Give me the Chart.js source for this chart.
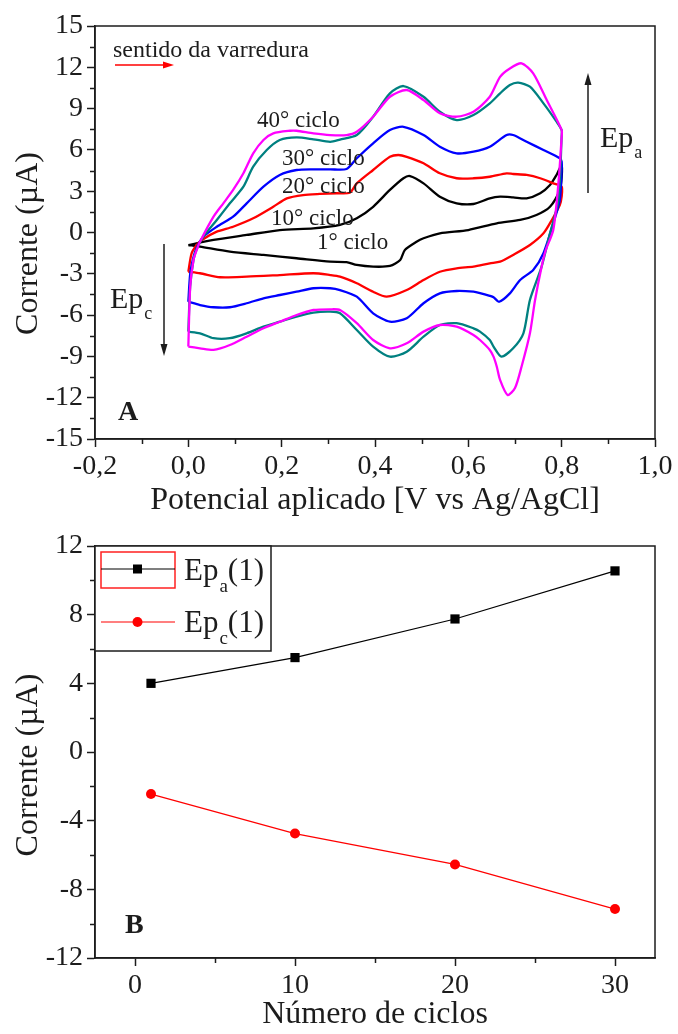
<!DOCTYPE html>
<html>
<head>
<meta charset="utf-8">
<title>Voltametria cíclica</title>
<script src="https://cdn.jsdelivr.net/npm/chart.js@4.4.1/dist/chart.umd.min.js"></script>
<style>
  html, body { margin: 0; padding: 0; background: #fff; }
  #wrap { position: relative; width: 678px; height: 1034px; }
  #wrap canvas { position: absolute; left: 0; }
  #cv-chart { top: 0; }
  #peak-chart { top: 520px; }
</style>
</head>
<body>
<div id="wrap">
  <canvas id="cv-chart" width="678" height="520"></canvas>
  <canvas id="peak-chart" width="678" height="514"></canvas>
</div>
<script>
// ---- Panel A: voltammograms (potential in V, current in µA) ----
// each trace runs 0.0 -> 0.8 V (anodic) and back to 0.0 V (cathodic)
const c40Potential = [0.000, 0.004, 0.011, 0.018, 0.025, 0.054, 0.075, 0.096, 0.118, 0.139, 0.161, 0.182, 0.218, 0.232, 0.268, 0.304, 0.339, 0.361, 0.396, 0.432, 0.468, 0.504, 0.539, 0.575, 0.611, 0.646, 0.668, 0.689, 0.714, 0.739, 0.768, 0.800,
  0.800, 0.793, 0.782, 0.766, 0.757, 0.743, 0.732, 0.714, 0.700, 0.684, 0.668, 0.661, 0.654, 0.646, 0.625, 0.611, 0.575, 0.539, 0.504, 0.468, 0.432, 0.396, 0.361, 0.325, 0.304, 0.268, 0.232, 0.196, 0.161, 0.125, 0.089, 0.054, 0.025, 0.000];
const c40Current = [-8.29, -3.94, -2.00, -1.27, -0.67, 1.15, 2.12, 3.09, 4.30, 5.75, 6.72, 7.20, 7.39, 7.39, 7.20, 7.08, 7.08, 7.32, 8.41, 9.86, 10.35, 9.62, 8.66, 8.41, 8.77, 9.86, 11.31, 11.92, 12.29, 11.56, 9.62, 7.44,
  6.96, 3.57, 0.18, -1.27, -2.48, -4.90, -7.32, -9.75, -11.30, -11.80, -10.71, -9.75, -9.02, -8.53, -7.81, -7.44, -6.84, -6.72, -7.20, -8.05, -8.41, -7.81, -6.59, -5.63, -5.58, -5.63, -5.99, -6.48, -6.96, -7.57, -8.17, -8.53, -8.41, -8.29];

const c30Potential = [0.000, 0.004, 0.011, 0.018, 0.032, 0.061, 0.089, 0.118, 0.139, 0.168, 0.196, 0.232, 0.268, 0.304, 0.325, 0.361, 0.396, 0.432, 0.461, 0.504, 0.539, 0.575, 0.611, 0.646, 0.668, 0.689, 0.707, 0.732, 0.761, 0.789, 0.800,
  0.800, 0.793, 0.775, 0.757, 0.732, 0.718, 0.696, 0.671, 0.654, 0.646, 0.625, 0.611, 0.575, 0.539, 0.504, 0.468, 0.432, 0.396, 0.361, 0.325, 0.304, 0.268, 0.232, 0.196, 0.161, 0.125, 0.089, 0.054, 0.025, 0.000];
const c30Current = [-7.20, -3.90, -2.00, -1.20, -0.31, 0.91, 2.12, 3.33, 4.78, 5.99, 6.72, 6.91, 6.77, 6.59, 6.75, 7.08, 8.41, 10.11, 10.64, 9.86, 8.77, 8.17, 8.53, 9.38, 10.11, 10.71, 10.88, 10.59, 9.38, 8.05, 7.44,
  7.00, 2.36, -0.06, -2.48, -4.90, -7.32, -8.41, -9.02, -8.29, -7.81, -7.20, -6.96, -6.59, -6.72, -7.57, -8.66, -9.02, -8.29, -7.08, -5.87, -5.75, -5.82, -6.11, -6.48, -6.84, -7.32, -7.68, -7.68, -7.32, -7.20];

const c20Potential = [0.000, 0.004, 0.011, 0.018, 0.032, 0.061, 0.096, 0.125, 0.161, 0.196, 0.232, 0.268, 0.304, 0.339, 0.361, 0.396, 0.432, 0.461, 0.504, 0.539, 0.575, 0.611, 0.646, 0.682, 0.696, 0.725, 0.761, 0.796, 0.800,
  0.800, 0.796, 0.782, 0.761, 0.739, 0.711, 0.689, 0.666, 0.654, 0.646, 0.625, 0.611, 0.575, 0.539, 0.504, 0.468, 0.432, 0.396, 0.361, 0.325, 0.304, 0.268, 0.232, 0.196, 0.161, 0.125, 0.089, 0.054, 0.025, 0.000];
const c20Current = [-5.03, -3.00, -1.80, -1.10, -0.31, 0.42, 1.15, 2.12, 3.33, 4.18, 4.54, 4.59, 4.59, 4.61, 5.39, 6.48, 7.44, 7.68, 7.08, 6.23, 5.75, 5.87, 6.23, 7.08, 7.08, 6.59, 5.99, 5.39, 5.14,
  4.50, 2.36, 0.67, -1.51, -2.72, -3.45, -4.42, -5.03, -4.70, -4.60, -4.40, -4.30, -4.25, -4.42, -5.14, -6.23, -6.48, -5.87, -4.66, -4.18, -4.05, -4.05, -4.30, -4.54, -4.78, -5.14, -5.43, -5.43, -5.27, -5.03];

const c10Potential = [0.000, 0.007, 0.018, 0.029, 0.061, 0.096, 0.139, 0.182, 0.211, 0.246, 0.282, 0.318, 0.346, 0.361, 0.396, 0.432, 0.450, 0.468, 0.504, 0.539, 0.575, 0.611, 0.646, 0.682, 0.696, 0.725, 0.754, 0.782, 0.800,
  0.800, 0.796, 0.779, 0.761, 0.732, 0.696, 0.668, 0.646, 0.611, 0.575, 0.539, 0.504, 0.468, 0.425, 0.396, 0.361, 0.325, 0.304, 0.268, 0.196, 0.125, 0.068, 0.025, 0.000];
const c10Current = [-2.85, -1.51, -0.91, -0.54, 0.06, 0.42, 1.03, 1.87, 2.48, 2.72, 2.80, 2.85, 2.89, 3.57, 4.54, 5.50, 5.63, 5.50, 5.03, 4.30, 3.94, 3.94, 4.05, 4.30, 4.25, 4.18, 3.94, 3.57, 3.33,
  2.60, 2.00, 0.91, -0.06, -0.91, -1.63, -2.12, -2.24, -2.48, -2.60, -2.85, -3.45, -4.18, -4.66, -4.30, -3.69, -3.21, -3.09, -2.96, -3.09, -3.21, -3.25, -2.96, -2.85];

const c1Potential = [0.000, 0.054, 0.125, 0.196, 0.268, 0.325, 0.361, 0.396, 0.432, 0.461, 0.475, 0.504, 0.539, 0.575, 0.611, 0.646, 0.668, 0.696, 0.725, 0.754, 0.775, 0.789, 0.800,
  0.800, 0.796, 0.775, 0.746, 0.711, 0.661, 0.600, 0.539, 0.504, 0.489, 0.464, 0.454, 0.432, 0.396, 0.361, 0.339, 0.304, 0.232, 0.161, 0.089, 0.025, 0.000];
const c1Current = [-0.91, -0.54, -0.18, 0.18, 0.30, 0.55, 1.03, 1.87, 3.09, 3.94, 4.10, 3.57, 2.60, 2.12, 2.07, 2.48, 2.60, 2.55, 2.48, 2.85, 3.45, 4.18, 4.90,
  4.00, 3.09, 1.87, 1.27, 0.91, 0.67, 0.18, -0.06, -0.42, -0.67, -1.27, -2.00, -2.43, -2.48, -2.36, -2.15, -2.12, -1.87, -1.63, -1.39, -1.03, -0.91];

const cvXTicks = [-0.2, 0, 0.2, 0.4, 0.6, 0.8, 1.0];
const cvXMinor = [-0.1, 0.1, 0.3, 0.5, 0.7, 0.9];
const cvYTicks = [-15, -12, -9, -6, -3, 0, 3, 6, 9, 12, 15];
const cvYMinor = [-13.5, -10.5, -7.5, -4.5, -1.5, 1.5, 4.5, 7.5, 10.5, 13.5];

// ---- Panel B: peak currents vs cycle number ----
const cycles = [1, 10, 20, 30];
const epaCurrent = [4.0, 5.5, 7.75, 10.55];
const epcCurrent = [-2.45, -4.75, -6.55, -9.15];

const cycXTicks = [0, 10, 20, 30];
const cycXMinor = [5, 15, 25];
const cycYTicks = [-12, -8, -4, 0, 4, 8, 12];
const cycYMinor = [-10, -6, -2, 2, 6, 10];

const SERIF = "'Liberation Serif', 'Times New Roman', Times, serif";
const INK = '#1c1c1c';

function toPoints(xs, ys) {
    return xs.map((x, i) => ({ x: x, y: ys[i] }));
}

function commaTick(v) {
    return v.toFixed(1).replace('.', ',');
}

// text with a lowered subscript, e.g. Ep + a; returns the x after it
function drawSub(ctx, main, sub, x, y, size) {
    ctx.font = size + 'px ' + SERIF;
    ctx.fillText(main, x, y);
    const w = ctx.measureText(main).width;
    ctx.font = Math.round(size * 0.6) + 'px ' + SERIF;
    ctx.fillText(sub, x + w + 1, y + size * 0.38);
    return x + w + 1 + ctx.measureText(sub).width;
}

function drawArrow(ctx, x1, y1, x2, y2, color, headLen, headHalf) {
    const ang = Math.atan2(y2 - y1, x2 - x1);
    ctx.strokeStyle = color;
    ctx.fillStyle = color;
    ctx.lineWidth = 1.5;
    ctx.beginPath();
    ctx.moveTo(x1, y1);
    ctx.lineTo(x2 - Math.cos(ang) * headLen * 0.5, y2 - Math.sin(ang) * headLen * 0.5);
    ctx.stroke();
    ctx.beginPath();
    ctx.moveTo(x2, y2);
    ctx.lineTo(x2 - Math.cos(ang) * headLen + Math.sin(ang) * headHalf, y2 - Math.sin(ang) * headLen - Math.cos(ang) * headHalf);
    ctx.lineTo(x2 - Math.cos(ang) * headLen - Math.sin(ang) * headHalf, y2 - Math.sin(ang) * headLen + Math.cos(ang) * headHalf);
    ctx.closePath();
    ctx.fill();
}

/**
 * Box around the plot, minor tick marks and the rotated y title
 */
const framePlugin = {
    id: 'frame',
    afterDraw(chart, args, opts) {
        const { ctx, chartArea: a, scales: { x, y } } = chart;
        ctx.save();
        ctx.strokeStyle = INK;
        ctx.lineWidth = 1.5;
        ctx.strokeRect(a.left, a.top, a.right - a.left, a.bottom - a.top);

        ctx.beginPath();
        opts.minorX.forEach(v => {
            const px = Math.round(x.getPixelForValue(v)) + 0.5;
            ctx.moveTo(px, a.bottom);
            ctx.lineTo(px, a.bottom + 5);
        });
        opts.minorY.forEach(v => {
            const py = Math.round(y.getPixelForValue(v)) + 0.5;
            ctx.moveTo(a.left, py);
            ctx.lineTo(a.left - 5, py);
        });
        ctx.stroke();

        ctx.translate(opts.titleX, (a.top + a.bottom) / 2 + opts.titleShift);
        ctx.rotate(-Math.PI / 2);
        ctx.fillStyle = INK;
        ctx.font = '32px ' + SERIF;
        ctx.textAlign = 'center';
        ctx.textBaseline = 'middle';
        ctx.fillText(opts.yTitle, 0, 0);
        ctx.restore();
    }
};

/**
 * Labels and arrows written over the voltammograms
 */
const cvNotesPlugin = {
    id: 'cvNotes',
    afterDatasetsDraw(chart) {
        const ctx = chart.ctx;
        ctx.save();
        ctx.fillStyle = INK;
        ctx.textAlign = 'left';
        ctx.textBaseline = 'alphabetic';

        ctx.font = '24px ' + SERIF;
        ctx.fillText('sentido da varredura', 113, 57);
        drawArrow(ctx, 115, 65, 174, 65, '#ff0000', 11, 3.5);

        ctx.fillStyle = INK;
        ctx.font = '23px ' + SERIF;
        ctx.fillText('40\u00b0 ciclo', 257, 127);
        ctx.fillText('30\u00b0 ciclo', 282, 165);
        ctx.fillText('20\u00b0 ciclo', 282, 193);
        ctx.fillText('10\u00b0 ciclo', 271, 225);
        ctx.fillText('1\u00b0 ciclo', 317, 249);

        drawArrow(ctx, 588, 193, 588, 73, INK, 12, 3.5);
        drawSub(ctx, 'Ep', 'a', 600, 147, 30);

        drawArrow(ctx, 164, 244, 164, 356, INK, 12, 3.5);
        ctx.fillStyle = INK;
        drawSub(ctx, 'Ep', 'c', 110, 308, 30);

        ctx.font = 'bold 28px ' + SERIF;
        ctx.fillText('A', 118, 420);
        ctx.restore();
    }
};

/**
 * Hand-drawn legend box and panel letter for the peak chart
 */
const peakNotesPlugin = {
    id: 'peakNotes',
    afterDraw(chart) {
        const ctx = chart.ctx;
        const a = chart.chartArea;
        ctx.save();
        ctx.fillStyle = '#fff';
        ctx.fillRect(a.left, a.top, 176, 105);
        ctx.strokeStyle = INK;
        ctx.lineWidth = 1.5;
        ctx.strokeRect(a.left, a.top, 176, 105);

        ctx.strokeStyle = '#ff2020';
        ctx.lineWidth = 1.5;
        ctx.strokeRect(a.left + 6, a.top + 6, 74, 36);

        // entry 1: anodic peak
        ctx.strokeStyle = '#000';
        ctx.lineWidth = 1.2;
        ctx.beginPath();
        ctx.moveTo(a.left + 6, a.top + 23);
        ctx.lineTo(a.left + 80, a.top + 23);
        ctx.stroke();
        ctx.fillStyle = '#000';
        ctx.fillRect(a.left + 38, a.top + 18.5, 9, 9);
        ctx.fillStyle = INK;
        let nx = drawSub(ctx, 'Ep', 'a', a.left + 89, a.top + 34, 31);
        ctx.font = '31px ' + SERIF;
        ctx.fillText('(1)', nx, a.top + 34);

        // entry 2: cathodic peak
        ctx.strokeStyle = '#ff0000';
        ctx.beginPath();
        ctx.moveTo(a.left + 6, a.top + 76);
        ctx.lineTo(a.left + 80, a.top + 76);
        ctx.stroke();
        ctx.fillStyle = '#ff0000';
        ctx.beginPath();
        ctx.arc(a.left + 42.5, a.top + 76, 5, 0, Math.PI * 2);
        ctx.fill();
        ctx.fillStyle = INK;
        nx = drawSub(ctx, 'Ep', 'c', a.left + 89, a.top + 86, 31);
        ctx.font = '31px ' + SERIF;
        ctx.fillText('(1)', nx, a.top + 86);

        ctx.font = 'bold 28px ' + SERIF;
        ctx.fillText('B', 125, 413);
        ctx.restore();
    }
};

const axisGrid = {
    display: true,
    drawOnChartArea: false,
    drawTicks: true,
    tickLength: 8,
    tickColor: INK,
    tickWidth: 1.5
};
const axisBorder = { display: true, color: INK, width: 1.5 };
const tickFont = { family: SERIF, size: 28 };

function fixedTicks(values) {
    return scale => { scale.ticks = values.map(v => ({ value: v })); };
}

// Panel A
const cvSeries = [
    { label: '40\u00b0 ciclo', xs: c40Potential, ys: c40Current, color: '#ff00ff' },
    { label: '30\u00b0 ciclo', xs: c30Potential, ys: c30Current, color: '#008080' },
    { label: '20\u00b0 ciclo', xs: c20Potential, ys: c20Current, color: '#0000ff' },
    { label: '10\u00b0 ciclo', xs: c10Potential, ys: c10Current, color: '#ff0000' },
    { label: '1\u00b0 ciclo', xs: c1Potential, ys: c1Current, color: '#000000' }
];

new Chart(document.getElementById('cv-chart'), {
    type: 'scatter',
    data: {
        datasets: cvSeries.map(s => ({
            label: s.label,
            data: toPoints(s.xs, s.ys),
            showLine: true,
            fill: false,
            borderColor: s.color,
            borderWidth: 2.3,
            pointRadius: 0,
            tension: 0.25
        }))
    },
    options: {
        responsive: false,
        animation: false,
        events: [],
        layout: { padding: { top: 26, right: 23, left: 0, bottom: 0 } },
        plugins: {
            legend: { display: false },
            tooltip: { enabled: false },
            frame: { minorX: cvXMinor, minorY: cvYMinor, yTitle: 'Corrente (\u00b5A)', titleX: 29, titleShift: 11 }
        },
        scales: {
            x: {
                type: 'linear',
                min: -0.2,
                max: 1.0,
                afterBuildTicks: fixedTicks(cvXTicks),
                afterFit: s => { s.height = 81; },
                grid: axisGrid,
                border: axisBorder,
                ticks: { font: tickFont, color: INK, padding: 3, maxRotation: 0, autoSkip: false, callback: v => commaTick(v) },
                title: { display: true, text: 'Potencial aplicado [V vs Ag/AgCl]', color: INK, font: { family: SERIF, size: 32 }, padding: { top: 0, bottom: 0 } }
            },
            y: {
                type: 'linear',
                min: -15,
                max: 15,
                afterBuildTicks: fixedTicks(cvYTicks),
                afterFit: s => { s.width = 95; },
                grid: axisGrid,
                border: axisBorder,
                ticks: { font: tickFont, color: INK, padding: 4, autoSkip: false, callback: v => String(v) }
            }
        }
    },
    plugins: [framePlugin, cvNotesPlugin]
});

// Panel B
new Chart(document.getElementById('peak-chart'), {
    type: 'scatter',
    data: {
        datasets: [
            {
                label: 'Ep a (1)',
                data: toPoints(cycles, epaCurrent),
                showLine: true,
                borderColor: '#000',
                backgroundColor: '#000',
                borderWidth: 1.2,
                pointStyle: 'rect',
                pointRadius: 6.5,
                pointBorderWidth: 0
            },
            {
                label: 'Ep c (1)',
                data: toPoints(cycles, epcCurrent),
                showLine: true,
                borderColor: '#ff0000',
                backgroundColor: '#ff0000',
                borderWidth: 1.2,
                pointStyle: 'circle',
                pointRadius: 5,
                pointBorderWidth: 0
            }
        ]
    },
    options: {
        responsive: false,
        animation: false,
        events: [],
        layout: { padding: { top: 26, right: 23, left: 0, bottom: 0 } },
        plugins: {
            legend: { display: false },
            tooltip: { enabled: false },
            frame: { minorX: cycXMinor, minorY: cycYMinor, yTitle: 'Corrente (\u00b5A)', titleX: 29, titleShift: 13 }
        },
        scales: {
            x: {
                type: 'linear',
                min: -2.5,
                max: 32.5,
                afterBuildTicks: fixedTicks(cycXTicks),
                afterFit: s => { s.height = 76; },
                grid: axisGrid,
                border: axisBorder,
                ticks: { font: tickFont, color: INK, padding: 3, maxRotation: 0, autoSkip: false, callback: v => String(v) },
                title: { display: true, text: 'N\u00famero de ciclos', color: INK, font: { family: SERIF, size: 32 }, padding: { top: 0, bottom: 0 } }
            },
            y: {
                type: 'linear',
                min: -12,
                max: 12,
                afterBuildTicks: fixedTicks(cycYTicks),
                afterFit: s => { s.width = 95; },
                grid: axisGrid,
                border: axisBorder,
                ticks: { font: tickFont, color: INK, padding: 4, autoSkip: false, callback: v => String(v) }
            }
        }
    },
    plugins: [framePlugin, peakNotesPlugin]
});
</script>
</body>
</html>
